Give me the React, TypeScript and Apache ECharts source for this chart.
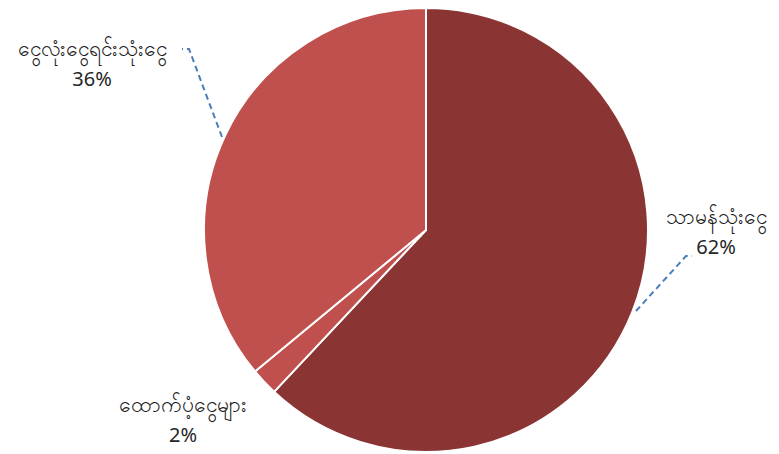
import React, { useEffect, useRef } from "react";
import * as echarts from "echarts";

const categories = ["သာမန်သုံးငွေ", "ထောက်ပံ့ငွေများ", "ငွေလုံးငွေရင်းသုံးငွေ"];
const values = [62, 2, 36];
const colors = ["#8A3533", "#C0504D", "#C0504D"];
const showLeader = [true, false, true];

// label anchor positions (layout only)
const labelPos = [
  { x: 716, y: 231, line: [[636, 311], [686, 256], [692, 256]] },
  { x: 183, y: 419, line: null },
  { x: 92, y: 63, line: [[222, 137], [189, 49], [182, 49]] },
];

export default function App() {
  const ref = useRef<HTMLDivElement>(null);
  useEffect(() => {
    const chart = echarts.init(ref.current!, null, { renderer: "svg" });
    chart.setOption({
      animation: false,
      backgroundColor: "#ffffff",
      series: [
        {
          type: "pie",
          center: [426, 230],
          radius: [0, 222],
          startAngle: 90,
          clockwise: true,
          data: categories.map((c, i) => ({
            name: c,
            value: values[i],
            itemStyle: { color: colors[i] },
            labelLine: { show: showLeader[i] },
          })),
          itemStyle: { borderColor: "#ffffff", borderWidth: 2 },
          label: {
            show: true,
            overflow: "none",
            width: 220,
            formatter: (p: any) => `{n|${p.name}}\n{v|${p.value}%}`,
            align: "center",
            rich: {
              n: {
                fontFamily: "Noto Sans, DejaVu Sans, sans-serif",
                fontSize: 21,
                lineHeight: 30,
                color: "#1a1a1a",
                align: "center",
              },
              v: {
                fontFamily: "Noto Sans, sans-serif",
                fontSize: 20,
                lineHeight: 30,
                color: "#262626",
                align: "center",
              },
            },
          },
          labelLine: {
            show: true,
            lineStyle: { color: "#4A7EBB", width: 2, type: [6, 4] },
          },
          labelLayout: (params: any) => {
            const p = labelPos[params.dataIndex];
            const r: any = { x: p.x, y: p.y, align: "center", verticalAlign: "middle" };
            if (p.line) r.labelLinePoints = p.line;
            return r;
          },
        },
      ],
    });
    return () => chart.dispose();
  }, []);
  return (
    <div
      ref={ref}
      style={{ position: "fixed", left: 0, top: 0, width: 779, height: 454 }}
    />
  );
}
